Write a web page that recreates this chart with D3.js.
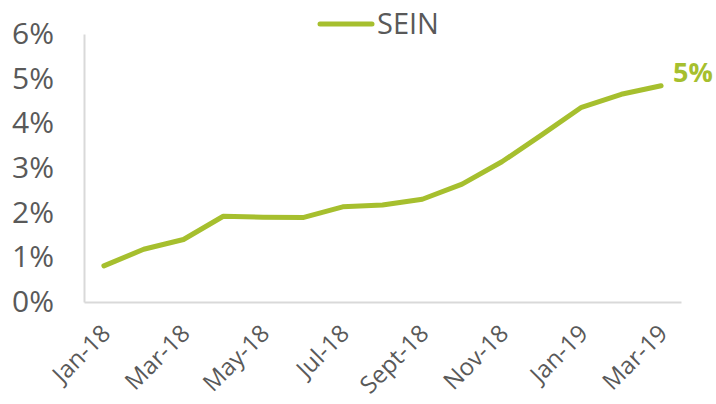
<!DOCTYPE html>
<html>
<head>
<meta charset="utf-8">
<script src="https://cdn.jsdelivr.net/npm/d3@7"></script>
<style>
  body { margin: 0; background: #fff; }
  text { font-family: "Open Sans", sans-serif; fill: #595959; }
</style>
</head>
<body>
<svg id="chart" width="716" height="404"></svg>
<script>
// Data
const months = ["Jan-18", "Feb-18", "Mar-18", "Apr-18", "May-18", "Jun-18", "Jul-18", "Aug-18",
                "Sept-18", "Oct-18", "Nov-18", "Dec-18", "Jan-19", "Feb-19", "Mar-19"];
const sein = [0.81, 1.18, 1.40, 1.92, 1.90, 1.89, 2.13, 2.17, 2.30, 2.64, 3.14, 3.74, 4.36, 4.65, 4.84];
const yTicks = [0, 1, 2, 3, 4, 5, 6];
const seriesName = "SEIN";
const endLabel = "5%";

const green = "#A6BF2E";
const margin = { left: 84, right: 35, top: 34, bottom: 102 };
const width = 716, height = 404;

const svg = d3.select("#chart");

const x = d3.scaleBand()
    .domain(months)
    .range([margin.left, width - margin.right]);

const y = d3.scaleLinear()
    .domain([0, 6])
    .range([height - margin.bottom, margin.top]);

// y axis
const yAxis = svg.append("g")
    .attr("transform", `translate(${margin.left},0)`)
    .call(d3.axisLeft(y).tickValues(yTicks).tickFormat(d => d + "%").tickSize(0).tickPadding(30));
yAxis.select(".domain").attr("stroke", "#D9D9D9").attr("stroke-width", 2);
yAxis.selectAll("text").style("font-size", "30px").attr("text-anchor", "end");

// x axis
const xAxis = svg.append("g")
    .attr("transform", `translate(0,${y(0)})`)
    .call(d3.axisBottom(x).tickValues(months.filter((d, i) => i % 2 === 0)).tickSize(0));
xAxis.select(".domain").attr("stroke", "#D9D9D9").attr("stroke-width", 2);
xAxis.selectAll("text")
    .style("font-size", "24px")
    .attr("text-anchor", "end")
    .attr("y", 0)
    .attr("dy", "0.35em")
    .attr("transform", "translate(2,27) rotate(-45)");

// line
const line = d3.line()
    .x((d, i) => x(months[i]) + x.bandwidth() / 2)
    .y(d => y(d));

svg.append("path")
    .datum(sein)
    .attr("fill", "none")
    .attr("stroke", green)
    .attr("stroke-width", 5)
    .attr("stroke-linecap", "round")
    .attr("stroke-linejoin", "round")
    .attr("d", line);

// end label
const last = sein.length - 1;
svg.append("text")
    .attr("x", x(months[last]) + x.bandwidth() / 2 + 12)
    .attr("y", y(sein[last]) - 4)
    .style("font-size", "27px")
    .style("font-weight", "bold")
    .style("fill", green)
    .text(endLabel);

// legend
const legend = svg.append("g").attr("transform", "translate(320,24)");
legend.append("line")
    .attr("x1", 0).attr("x2", 52)
    .attr("stroke", green)
    .attr("stroke-width", 5)
    .attr("stroke-linecap", "round");
legend.append("text")
    .attr("x", 57)
    .attr("dy", "0.36em")
    .style("font-size", "29px")
    .text(seriesName);
</script>
</body>
</html>
